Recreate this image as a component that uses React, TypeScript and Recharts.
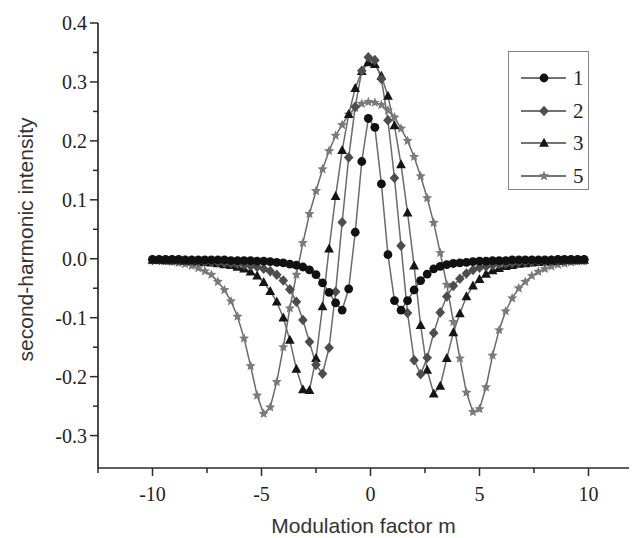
import { LineChart, Line, XAxis, YAxis, Legend, Label } from 'recharts';

// modulation factor m (x), sampled every 0.3
const mValues = [
  -10, -9.7, -9.4, -9.1, -8.8,
  -8.5, -8.2, -7.9, -7.6, -7.3,
  -7, -6.7, -6.4, -6.1, -5.8,
  -5.5, -5.2, -4.9, -4.6, -4.3,
  -4, -3.7, -3.4, -3.1, -2.8,
  -2.5, -2.2, -1.9, -1.6, -1.3,
  -1, -0.7, -0.4, -0.1,
  0.2, 0.5, 0.8, 1.1, 1.4,
  1.7, 2, 2.3, 2.6, 2.9,
  3.2, 3.5, 3.8, 4.1, 4.4,
  4.7, 5, 5.3, 5.6, 5.9,
  6.2, 6.5, 6.8, 7.1, 7.4,
  7.7, 8, 8.3, 8.6, 8.9,
  9.2, 9.5, 9.8,
];

const curve1 = [
  -0.001, -0.001, -0.001, -0.001, -0.001,
  -0.002, -0.002, -0.002, -0.002, -0.002,
  -0.002, -0.002, -0.003, -0.003, -0.003,
  -0.003, -0.004, -0.004, -0.005, -0.006,
  -0.007, -0.009, -0.011, -0.014, -0.019,
  -0.027, -0.041, -0.057, -0.075, -0.087,
  -0.051, 0.045, 0.165, 0.238,
  0.223, 0.127, 0.007, -0.071, -0.087,
  -0.071, -0.053, -0.037, -0.026, -0.017,
  -0.013, -0.01, -0.008, -0.007, -0.006,
  -0.005, -0.004, -0.004, -0.003, -0.003,
  -0.003, -0.002, -0.002, -0.002, -0.002,
  -0.002, -0.002, -0.002, -0.001, -0.001,
  -0.001, -0.001, -0.001,
];

const curve2 = [
  -0.002, -0.002, -0.002, -0.003, -0.003,
  -0.003, -0.004, -0.004, -0.005, -0.005,
  -0.006, -0.007, -0.008, -0.009, -0.01,
  -0.012, -0.014, -0.017, -0.021, -0.027,
  -0.037, -0.052, -0.073, -0.104, -0.141,
  -0.18, -0.195, -0.151, -0.056, 0.062,
  0.172, 0.258, 0.319, 0.342,
  0.337, 0.305, 0.235, 0.137, 0.022,
  -0.092, -0.172, -0.196, -0.168, -0.126,
  -0.091, -0.064, -0.046, -0.034, -0.025,
  -0.019, -0.015, -0.013, -0.011, -0.009,
  -0.008, -0.007, -0.006, -0.005, -0.005,
  -0.004, -0.004, -0.003, -0.003, -0.003,
  -0.002, -0.002, -0.002,
];

const curve3 = [
  -0.002, -0.002, -0.003, -0.003, -0.003,
  -0.004, -0.004, -0.005, -0.006, -0.007,
  -0.008, -0.01, -0.011, -0.014, -0.017,
  -0.022, -0.029, -0.04, -0.055, -0.073,
  -0.1, -0.138, -0.187, -0.222, -0.223,
  -0.169, -0.081, 0.017, 0.106, 0.184,
  0.245, 0.289, 0.318, 0.333,
  0.33, 0.31, 0.276, 0.226, 0.16,
  0.078, -0.012, -0.113, -0.189, -0.229,
  -0.216, -0.169, -0.125, -0.093, -0.064,
  -0.046, -0.035, -0.026, -0.02, -0.016,
  -0.013, -0.011, -0.009, -0.008, -0.007,
  -0.006, -0.005, -0.004, -0.004, -0.003,
  -0.003, -0.002, -0.002,
];

const curve5 = [
  -0.003, -0.003, -0.004, -0.005, -0.007,
  -0.009, -0.012, -0.016, -0.021, -0.027,
  -0.039, -0.053, -0.072, -0.098, -0.135,
  -0.182, -0.232, -0.263, -0.252, -0.209,
  -0.15, -0.084, -0.027, 0.027, 0.076,
  0.115, 0.152, 0.183, 0.209, 0.227,
  0.245, 0.256, 0.263, 0.266,
  0.265, 0.261, 0.252, 0.24, 0.221,
  0.2, 0.173, 0.14, 0.103, 0.061,
  0.01, -0.044, -0.107, -0.169, -0.227,
  -0.26, -0.255, -0.218, -0.164, -0.121,
  -0.089, -0.067, -0.05, -0.039, -0.029,
  -0.022, -0.017, -0.013, -0.01, -0.008,
  -0.006, -0.005, -0.004,
];

const seriesNames = ['1', '2', '3', '5'];
const xTicks = [-12.5, -10, -7.5, -5, -2.5, 0, 2.5, 5, 7.5, 10, 12.5];
const xMajorTicks = [-10, -5, 0, 5, 10];
const yTicks = [-0.3, -0.25, -0.2, -0.15, -0.1, -0.05, 0, 0.05, 0.1, 0.15, 0.2, 0.25, 0.3, 0.35, 0.4];

const data = mValues.map((m, i) => ({
  m,
  c1: curve1[i],
  c2: curve2[i],
  c3: curve3[i],
  c5: curve5[i],
}));

const AXIS = '#2b2b2b';
const LINE = '#6a6a6a';
const SERIF = '"Liberation Serif", "Times New Roman", serif';
const SANS = '"Liberation Sans", Arial, sans-serif';

type MarkerKind = 'circle' | 'diamond' | 'triangle' | 'star';

const styles: Record<string, { kind: MarkerKind; fill: string }> = {
  '1': { kind: 'circle', fill: '#111111' },
  '2': { kind: 'diamond', fill: '#4d4d4d' },
  '3': { kind: 'triangle', fill: '#151515' },
  '5': { kind: 'star', fill: '#7a7a7a' },
};

function Marker({ cx, cy, kind, fill }: { cx: number; cy: number; kind: MarkerKind; fill: string }) {
  if (cx == null || cy == null) return null;
  if (kind === 'circle') return <circle cx={cx} cy={cy} r={4.4} fill={fill} />;
  if (kind === 'diamond') {
    return <polygon points={`${cx},${cy - 5.3} ${cx + 4.8},${cy} ${cx},${cy + 5.3} ${cx - 4.8},${cy}`} fill={fill} />;
  }
  if (kind === 'triangle') {
    return <polygon points={`${cx},${cy - 5.3} ${cx + 4.9},${cy + 3.7} ${cx - 4.9},${cy + 3.7}`} fill={fill} />;
  }
  const pts: string[] = [];
  for (let k = 0; k < 10; k++) {
    const r = k % 2 === 0 ? 5.3 : 2.4;
    const a = -Math.PI / 2 + (k * Math.PI) / 5;
    pts.push(`${cx + r * Math.cos(a)},${cy + r * Math.sin(a)}`);
  }
  return <polygon points={pts.join(' ')} fill={fill} />;
}

function XTick({ x, y, payload }: any) {
  const v = payload.value;
  const major = xMajorTicks.includes(v);
  return (
    <g>
      <line x1={x} y1={y} x2={x} y2={y + (major ? 8 : 5)} stroke={AXIS} strokeWidth={1.5} />
      {major && (
        <text x={x} y={y + 26} textAnchor="middle" dominantBaseline="central" fontFamily={SERIF} fontSize={20} fill="#222">
          {v}
        </text>
      )}
    </g>
  );
}

function YTick({ x, y, payload }: any) {
  const v = payload.value;
  const major = Math.abs(v * 10 - Math.round(v * 10)) < 1e-6;
  return (
    <g>
      <line x1={x - (major ? 8 : 5)} y1={y} x2={x} y2={y} stroke={AXIS} strokeWidth={1.5} />
      {major && (
        <text x={x - 11} y={y} textAnchor="end" dominantBaseline="central" fontFamily={SERIF} fontSize={20} fill="#222">
          {v.toFixed(1)}
        </text>
      )}
    </g>
  );
}

function LegendBox() {
  const rows = [27, 60, 92, 125];
  return (
    <svg width={82} height={140} style={{ display: 'block' }}>
      <rect x={0.5} y={0.5} width={80} height={138} fill="#fff" stroke="#858585" strokeWidth={1} />
      {seriesNames.map((name, i) => (
        <g key={name}>
          <line x1={13} y1={rows[i]} x2={58} y2={rows[i]} stroke="#444" strokeWidth={1.4} />
          <Marker cx={36} cy={rows[i]} kind={styles[name].kind} fill={styles[name].fill} />
          <text x={65} y={rows[i]} dominantBaseline="central" fontFamily={SERIF} fontSize={21} fill="#222">
            {name}
          </text>
        </g>
      ))}
    </svg>
  );
}

export default function App() {
  const drawOrder = ['5', '3', '2', '1'];
  return (
    <div style={{ width: 629, height: 530, overflow: 'hidden' }}>
      <LineChart width={650} height={530} data={data} margin={{ top: 15, right: 15, left: 0, bottom: 10 }}>
        <XAxis
          dataKey="m"
          type="number"
          domain={[-12.5, 12.5]}
          ticks={xTicks}
          interval={0}
          tickSize={0}
          tickMargin={0}
          tickLine={false}
          tick={<XTick />}
          height={60}
          axisLine={{ stroke: AXIS, strokeWidth: 1.7 }}
        >
          <Label
            content={({ viewBox }: any) => (
              <text
                x={viewBox.x + viewBox.width / 2 - 7}
                y={viewBox.y + 57}
                textAnchor="middle"
                dominantBaseline="central"
                fontFamily={SANS}
                fontSize={21}
                fill="#333"
              >
                Modulation factor m
              </text>
            )}
          />
        </XAxis>
        <YAxis
          type="number"
          domain={[-0.355, 0.4]}
          ticks={yTicks}
          interval={0}
          width={90}
          tickSize={0}
          tickMargin={0}
          tickLine={false}
          tick={<YTick />}
          axisLine={{ stroke: AXIS, strokeWidth: 1.7 }}
        >
          <Label
            content={({ viewBox }: any) => {
              const cx = viewBox.x + 17;
              const cy = viewBox.y + viewBox.height / 2 - 6;
              return (
                <text
                  x={cx}
                  y={cy}
                  transform={`rotate(-90, ${cx}, ${cy})`}
                  textAnchor="middle"
                  dominantBaseline="central"
                  fontFamily={SANS}
                  fontSize={21}
                  fill="#333"
                >
                  second-harmonic intensity
                </text>
              );
            }}
          />
        </YAxis>
        <Legend
          layout="horizontal"
          verticalAlign="middle"
          align="center"
          wrapperStyle={{ left: 500, top: 43, width: 82, height: 140 }}
          content={() => <LegendBox />}
        />
        {drawOrder.map((name) => (
          <Line
            key={name}
            name={name}
            dataKey={`c${name}`}
            type="linear"
            stroke={LINE}
            strokeWidth={1.5}
            isAnimationActive={false}
            activeDot={false}
            dot={(p: any) => (
              <Marker key={`${name}-${p.index}`} cx={p.cx} cy={p.cy} kind={styles[name].kind} fill={styles[name].fill} />
            )}
          />
        ))}
      </LineChart>
    </div>
  );
}
